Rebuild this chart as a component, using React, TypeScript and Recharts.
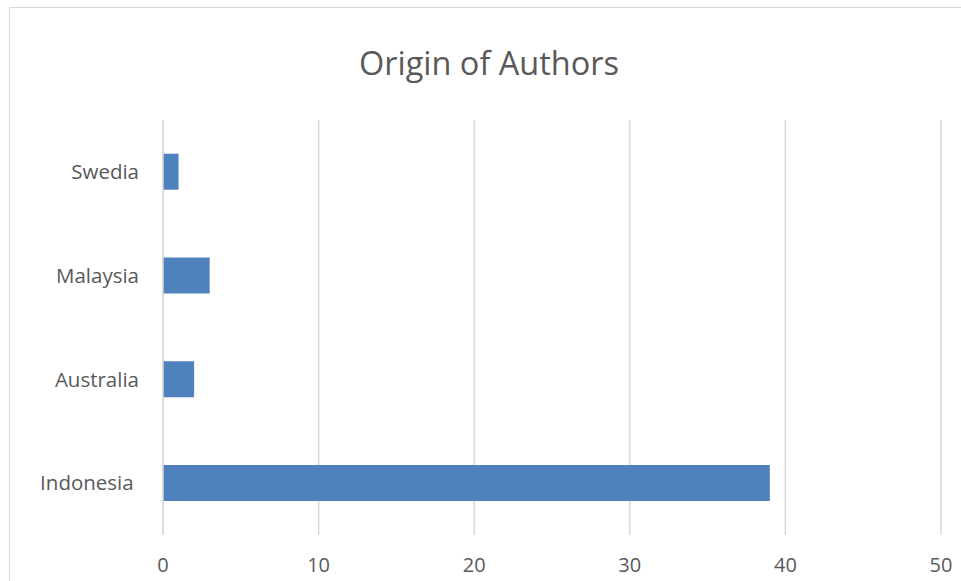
import React from "react";
import { BarChart, Bar, XAxis, YAxis, CartesianGrid } from "recharts";

const categories = ["Swedia", "Malaysia", "Australia", "Indonesia "];
const authors = [1, 3, 2, 39];
const xTicks = [0, 10, 20, 30, 40, 50];

const data = categories.map((c, i) => ({ country: c, value: authors[i] }));

const FONT = "'Open Sans', 'Noto Sans', sans-serif";
const TEXT = "#595959";

const YTick = (props: any) => {
  const { x, y, payload } = props;
  return (
    <text
      x={x}
      y={y}
      dy="0.35em"
      textAnchor="end"
      fill={TEXT}
      fontSize={20.5}
      fontFamily={FONT}
      style={{ whiteSpace: "pre" }}
    >
      {payload.value}
    </text>
  );
};

export default function App() {
  return (
    <div
      style={{
        position: "absolute",
        left: 0,
        top: 0,
        width: 961,
        height: 581,
        overflow: "hidden",
        background: "#fff",
      }}
    >
      <div
        style={{
          position: "absolute",
          left: 9,
          top: 7,
          width: 1100,
          height: 800,
          border: "1.5px solid #d9d9d9",
          boxSizing: "border-box",
        }}
      />
      <div
        style={{
          position: "absolute",
          left: 0,
          top: 63,
          width: 978,
          textAlign: "center",
          fontFamily: FONT,
          fontSize: 32.5,
          color: TEXT,
          lineHeight: 0,
        }}
      >
        Origin of Authors
      </div>
      <div style={{ position: "absolute", left: 0, top: 0 }}>
        <BarChart
          width={961}
          height={581}
          data={data}
          layout="vertical"
          margin={{ top: 120, right: 20, bottom: 0, left: 0 }}
          barCategoryGap="32.5%"
        >
          <CartesianGrid horizontal={false} vertical={true} stroke="#d9d9d9" strokeWidth={1.5} />
          <XAxis
            type="number"
            domain={[0, 50]}
            ticks={xTicks}
            axisLine={false}
            tickLine={false}
            tickMargin={17}
            height={46}
            tick={{ fill: TEXT, fontSize: 20, fontFamily: FONT }}
            interval={0}
          />
          <YAxis
            type="category"
            dataKey="country"
            width={163}
            axisLine={{ stroke: "#d9d9d9", strokeWidth: 1.5 }}
            tickLine={false}
            tickMargin={18}
            tick={<YTick />}
            interval={0}
          />
          <Bar dataKey="value" fill="#4f81bd" isAnimationActive={false} />
        </BarChart>
      </div>
    </div>
  );
}
